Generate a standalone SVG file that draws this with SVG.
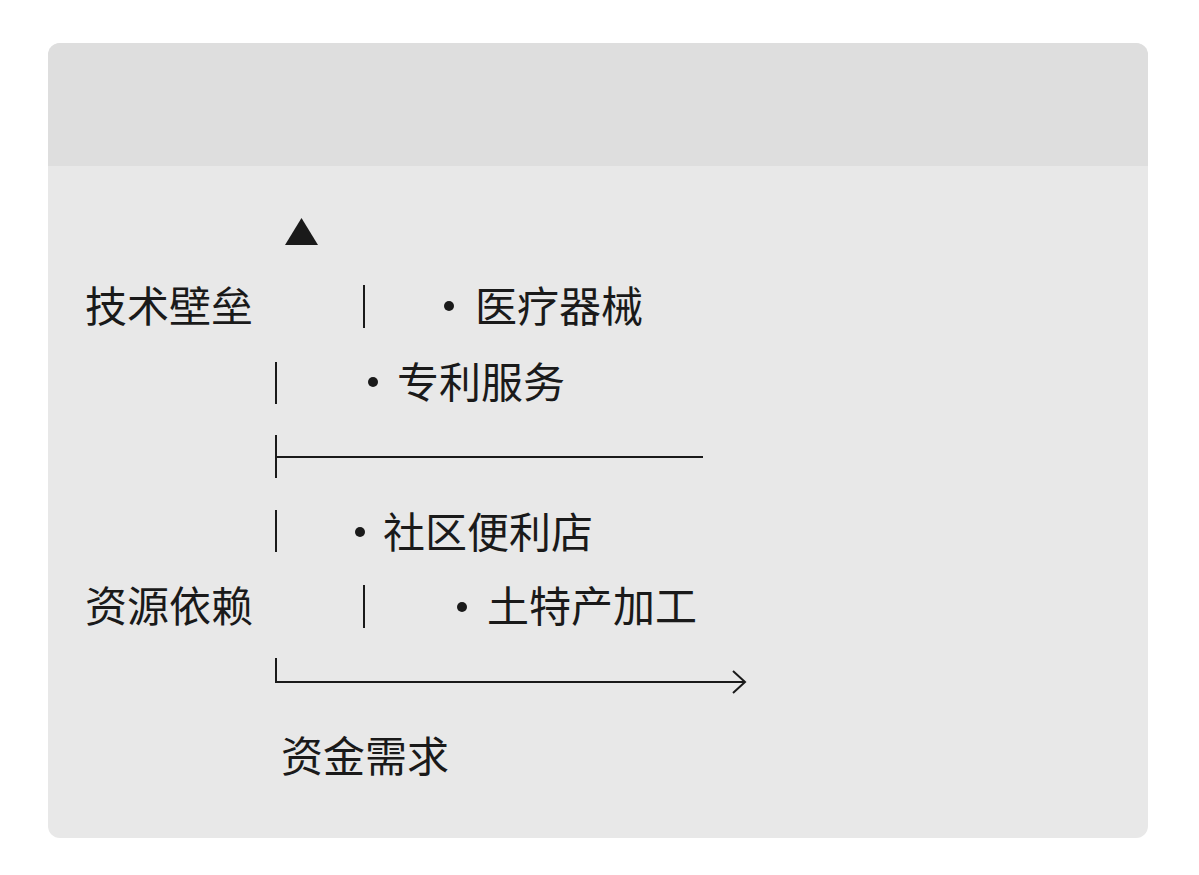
<svg xmlns="http://www.w3.org/2000/svg" width="1199" height="875" viewBox="0 0 1199 875">
<style>
text{font-family:"Noto Sans CJK SC","Noto Sans",sans-serif;font-size:42px;fill:#1a1a1a}
.ln{stroke:#1a1a1a;stroke-width:2;fill:none}
</style>
<rect width="1199" height="875" fill="#ffffff"/>
<rect x="48" y="43" width="1100" height="795" rx="12" fill="#e8e8e8"/>
<path d="M48 166V55a12 12 0 0 1 12-12h1076a12 12 0 0 1 12 12v111z" fill="#dedede"/>
<g id="yaxis"><polygon points="285,245 318,245 301.5,218" fill="#1a1a1a"/></g>
<g id="label-tech"><text x="85" y="322">技术壁垒</text></g>
<g id="label-res"><text x="85" y="622">资源依赖</text></g>
<g id="label-fund"><text x="281" y="772">资金需求</text></g>
<g id="n1"><circle cx="449" cy="306" r="5" fill="#1a1a1a"/><text x="475" y="322">医疗器械</text></g>
<g id="n2"><circle cx="373" cy="382" r="5" fill="#1a1a1a"/><text x="397" y="398">专利服务</text></g>
<g id="n3"><circle cx="360" cy="532" r="5" fill="#1a1a1a"/><text x="383" y="548">社区便利店</text></g>
<g id="n4"><circle cx="462" cy="607" r="5" fill="#1a1a1a"/><text x="487" y="622">土特产加工</text></g>
<g id="connectors" class="ln">
<path d="M364 285V328M276 362V404M276 435V478M276 457H703M276 510V552M364 585V628M276 658V682H745M733 671L745 682L733 693"/>
</g>
</svg>
